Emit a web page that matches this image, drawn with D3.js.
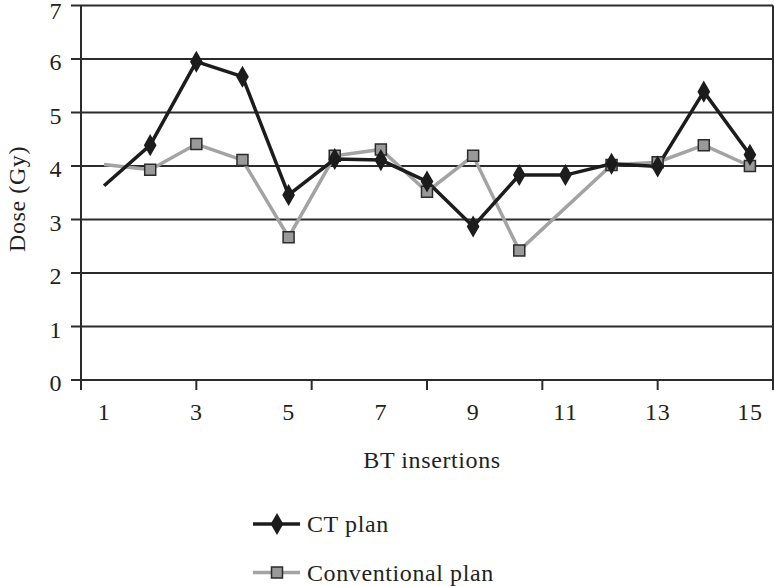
<html>
<head>
<script src="https://d3js.org/d3.v7.min.js"></script>
<style>
  body { margin: 0; background: #fff; }
  text { font-family: "Liberation Serif", "DejaVu Serif", serif; fill: #231f20; letter-spacing: 0.6px; }
</style>
</head>
<body>
<svg id="chart" width="774" height="586"></svg>
<script>
// data
const insertions = [1, 2, 3, 4, 5, 6, 7, 8, 9, 10, 11, 12, 13, 14, 15];
const ctPlan = [3.63, 4.39, 5.95, 5.67, 3.46, 4.13, 4.11, 3.71, 2.87, 3.83, 3.83, 4.04, 3.99, 5.39, 4.21];
const conventionalPlan = [4.03, 3.93, 4.41, 4.11, 2.67, 4.19, 4.31, 3.52, 4.19, 2.42, null, 4.02, 4.07, 4.39, 4.00];
const yTicks = [0, 1, 2, 3, 4, 5, 6, 7];
const xTickLabels = [1, 3, 5, 7, 9, 11, 13, 15];
const xTickMarks = [0.5, 3, 5.5, 8, 10.5, 13, 15.5];

let svg = d3.select("svg#chart");

const plotLeft = 81, plotRight = 773, plotTop = 5.5, plotBottom = 380;
const fontSize = 24;

const x = d3.scaleLinear().domain([0.5, 15.5]).range([plotLeft, plotRight]);
const y = d3.scaleLinear().domain([0, 7]).range([plotBottom, plotTop]);

// gridlines + y ticks
svg.append("g")
  .selectAll("line")
  .data(yTicks)
  .join("line")
  .attr("x1", plotLeft - 10)
  .attr("x2", plotRight)
  .attr("y1", d => y(d))
  .attr("y2", d => y(d))
  .attr("stroke", "#2b2b2b")
  .attr("stroke-width", 2);

// left axis and right border
svg.append("line").attr("x1", plotLeft).attr("x2", plotLeft).attr("y1", plotTop).attr("y2", plotBottom + 10)
  .attr("stroke", "#2b2b2b").attr("stroke-width", 2);
svg.append("line").attr("x1", plotRight).attr("x2", plotRight).attr("y1", plotTop).attr("y2", plotBottom + 10)
  .attr("stroke", "#2b2b2b").attr("stroke-width", 2);

// x tick marks
svg.append("g")
  .selectAll("line")
  .data(xTickMarks)
  .join("line")
  .attr("x1", d => x(d))
  .attr("x2", d => x(d))
  .attr("y1", plotBottom)
  .attr("y2", plotBottom + 10)
  .attr("stroke", "#2b2b2b")
  .attr("stroke-width", 2);

// y tick labels (top one kept just inside the page)
svg.append("g")
  .selectAll("text")
  .data(yTicks)
  .join("text")
  .attr("x", 62)
  .attr("y", d => Math.max(y(d) + 11, 19))
  .attr("text-anchor", "end")
  .attr("font-size", fontSize)
  .text(d => d);

// x tick labels
svg.append("g")
  .selectAll("text")
  .data(xTickLabels)
  .join("text")
  .attr("x", d => x(d))
  .attr("y", 420)
  .attr("text-anchor", "middle")
  .attr("font-size", fontSize)
  .text(d => d);

// axis titles
svg.append("text")
  .attr("transform", "translate(25,199) rotate(-90)")
  .attr("text-anchor", "middle")
  .attr("font-size", fontSize)
  .text("Dose (Gy)");

svg.append("text")
  .attr("x", 432)
  .attr("y", 468)
  .attr("text-anchor", "middle")
  .attr("font-size", fontSize)
  .text("BT insertions");

const lineGen = d3.line()
  .defined(d => d.v !== null)
  .x(d => x(d.x))
  .y(d => y(d.v));

const ctData = insertions.map((xi, i) => ({ x: xi, v: ctPlan[i] }));
const convData = insertions.map((xi, i) => ({ x: xi, v: conventionalPlan[i] })).filter(d => d.v !== null);

svg.append("path")
  .datum(convData)
  .attr("d", lineGen)
  .attr("fill", "none")
  .attr("stroke", "#a3a3a3")
  .attr("stroke-width", 3.5);

svg.append("path")
  .datum(ctData)
  .attr("d", lineGen)
  .attr("fill", "none")
  .attr("stroke", "#1c1c1c")
  .attr("stroke-width", 3.5);

const square = d3.symbol().type(d3.symbolSquare).size(121);
const diamond = d3.symbol().type(d3.symbolDiamond).size(140);

// first insertion has no marker in the reference
svg.append("g")
  .selectAll("path")
  .data(convData.filter(d => d.x > 1))
  .join("path")
  .attr("d", square)
  .attr("transform", d => `translate(${x(d.x)},${y(d.v)})`)
  .attr("fill", "#999999")
  .attr("stroke", "#2b2b2b")
  .attr("stroke-width", 1.5);

svg.append("g")
  .selectAll("path")
  .data(ctData.filter(d => d.x > 1))
  .join("path")
  .attr("d", diamond)
  .attr("transform", d => `translate(${x(d.x)},${y(d.v)})`)
  .attr("fill", "#1c1c1c");

// legend
const legend = [
  { name: "CT plan", color: "#1c1c1c", sym: diamond, fill: "#1c1c1c", stroke: "none", ly: 524 },
  { name: "Conventional plan", color: "#a3a3a3", sym: square, fill: "#999999", stroke: "#2b2b2b", ly: 572.5 }
];
legend.forEach(l => {
  svg.append("line").attr("x1", 253).attr("x2", 300).attr("y1", l.ly).attr("y2", l.ly)
    .attr("stroke", l.color).attr("stroke-width", 3.5);
  svg.append("path").attr("d", l.sym).attr("transform", `translate(277,${l.ly})`)
    .attr("fill", l.fill).attr("stroke", l.stroke).attr("stroke-width", 1.5);
  svg.append("text").attr("x", 307).attr("y", l.ly + 8).attr("font-size", fontSize).text(l.name);
});
</script>
</body>
</html>
